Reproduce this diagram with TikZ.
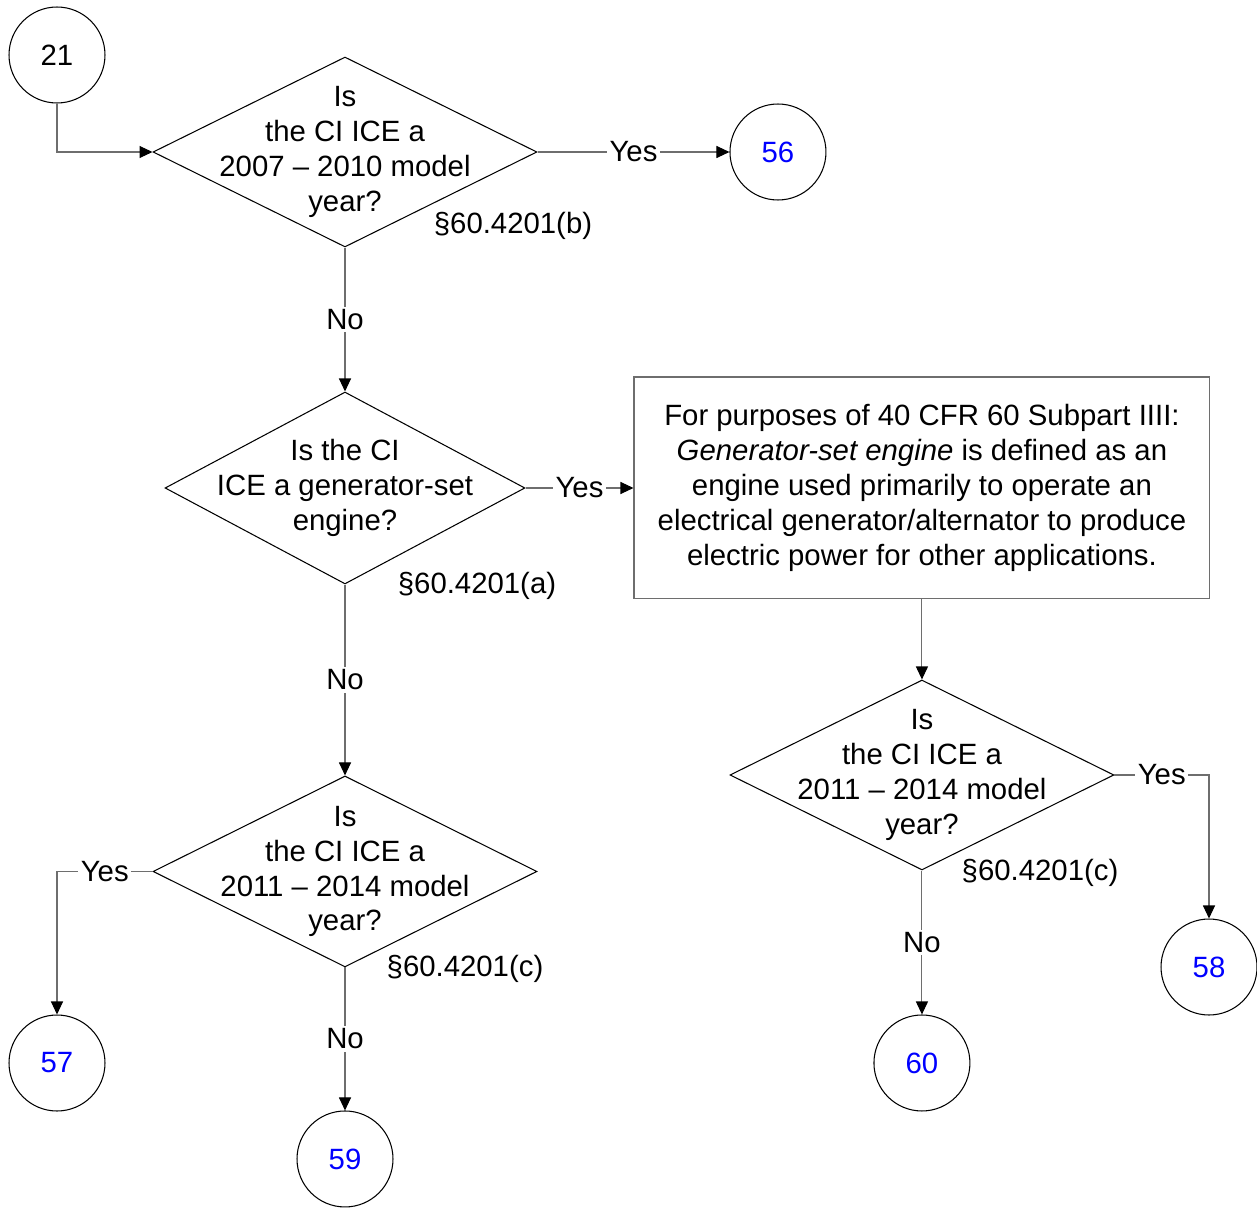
\documentclass[tikz,border=0pt]{standalone}
\usepackage{fontspec}
\setmainfont{Liberation Sans}
\usetikzlibrary{arrows.meta,positioning,shapes.geometric}
\definecolor{linkblue}{RGB}{0,0,255}
\definecolor{flowgray}{RGB}{110,110,110}

\begin{document}
\begin{tikzpicture}[
    x=0.02cm, y=-0.02cm,
    font=\fontsize{16.7}{19.9}\selectfont,
    conn/.style={draw,circle,line width=0.6pt,minimum size=1.92cm,inner sep=0pt},
    query/.style={draw,diamond,line width=0.6pt,minimum width=7.68cm,minimum height=3.8cm,inner sep=0pt},
    qtext/.style={align=center},
    box/.style={draw=flowgray,line width=0.6pt,align=center,minimum width=11.52cm,minimum height=4.44cm},
    arrow/.style={-{Triangle[length=2.6mm,width=2.4mm,color=black]},draw=flowgray,line width=0.6pt},
    answer/.style={fill=white,inner sep=1.5pt},
    cite/.style={inner sep=0pt}
  ]
    \useasboundingbox (0,0) rectangle (1257,1209);

    \node[conn] (c21) at (57,55) {21};
    \node[query,label={[qtext]center:{Is\\the CI ICE a\\2007 -- 2010 model\\year?}}] (q1) at (345,152) {};
    \node[conn,text=linkblue,right=3.84cm of q1] (c56) {56};
    \node[query,minimum width=7.2cm,minimum height=3.84cm,below=2.88cm of q1,
          label={[qtext]center:{Is the CI\\ICE a generator-set\\engine?}}] (q2) {};
    \node[box,right=2.16cm of q2] (def) {For purposes of 40 CFR 60 Subpart IIII:\\
      \textit{Generator-set engine} is defined as an\\
      engine used primarily to operate an\\
      electrical generator/alternator to produce\\
      electric power for other applications.};
    \node[query,below=1.6cm of def,label={[qtext]center:{Is\\the CI ICE a\\2011 -- 2014 model\\year?}}] (q4) {};
    \node[conn,text=linkblue] (c58) at (1209,967) {58};
    \node[conn,text=linkblue,below=2.88cm of q4] (c60) {60};
    \node[query,minimum height=3.82cm,below=3.82cm of q2,
          label={[qtext]center:{Is\\the CI ICE a\\2011 -- 2014 model\\year?}}] (q3) {};
    \node[conn,text=linkblue,below=2.86cm of q3] (c59) {59};
    \node[conn,text=linkblue] (c57) at (57,1063) {57};

    % regulation references
    \node[cite] (cite1) at (513,226) {§60.4201(b)};
    \node[cite] (cite2) at (477,586) {§60.4201(a)};
    \node[cite] (cite3) at (465,969) {§60.4201(c)};
    \node[cite] (cite4) at (1040,873) {§60.4201(c)};

    \draw[arrow] (c21) |- (q1);
    \draw[arrow] (q1) -- node[answer]{Yes} (c56);
    \draw[arrow] (q1) -- node[answer]{No} (q2);
    \draw[arrow] (q2) -- node[answer]{Yes} (def);
    \draw[arrow] (q2) -- node[answer]{No} (q3);
    \draw[arrow] (def) -- (q4);
    \draw[arrow] (q4) -| node[answer,pos=0.25]{Yes} (c58);
    \draw[arrow] (q4) -- node[answer]{No} (c60);
    \draw[arrow] (q3) -| node[answer,pos=0.25]{Yes} (c57);
    \draw[arrow] (q3) -- node[answer]{No} (c59);
  \end{tikzpicture}
\end{document}
